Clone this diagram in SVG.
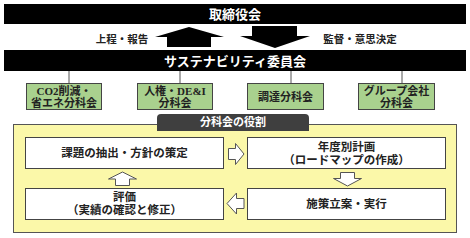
<svg xmlns="http://www.w3.org/2000/svg" width="470" height="238" viewBox="0 0 470 238">
<style>
text{font-family:"Liberation Serif","Noto Sans CJK JP",serif;font-weight:bold;text-anchor:middle}
.wt{fill:#fff}
.bk{fill:#222}
.bar{fill:#000}
.grn{fill:#a9d18e;stroke:#444;stroke-width:1}
.wbox{fill:#fff;stroke:#444;stroke-width:1}
.blk{fill:#fff;stroke:#555;stroke-width:1}
.conn{stroke:#555;stroke-width:1;fill:none}
</style>
<rect x="0" y="0" width="470" height="238" fill="#fff"/>
<g id="board">
<rect class="bar" x="4" y="4" width="462" height="20"/>
<text class="wt" x="235" y="19" font-size="13">取締役会</text>
</g>
<g id="committee">
<rect class="bar" x="4" y="50" width="462" height="21"/>
<text class="wt" x="235" y="65.5" font-size="13">サステナビリティ委員会</text>
</g>
<g id="connectors">
<polygon fill="#000" points="189,27 224,37 211,37 211,47 167,47 167,37 155,37"/>
<polygon fill="#000" points="252,26 297,26 297,36 310,36 275,48 240,36 252,36"/>
<text class="bk" x="122" y="43" font-size="10.5">上程・報告</text>
<text class="bk" x="360" y="43" font-size="10.5">監督・意思決定</text>
<line class="conn" x1="69" y1="71" x2="69" y2="83"/>
<line class="conn" x1="180" y1="71" x2="180" y2="83"/>
<line class="conn" x1="291" y1="71" x2="291" y2="83"/>
<line class="conn" x1="402" y1="71" x2="402" y2="83"/>
</g>
<g id="sub1">
<rect class="grn" x="26.5" y="83.5" width="75" height="26"/>
<text class="bk" x="64" y="94.5" font-size="11">CO2削減・</text>
<text class="bk" x="64" y="107" font-size="11">省エネ分科会</text>
</g>
<g id="sub2">
<rect class="grn" x="137.5" y="83.5" width="75" height="26"/>
<text class="bk" x="175" y="94.5" font-size="11">人権・DE&amp;I</text>
<text class="bk" x="175" y="107" font-size="11">分科会</text>
</g>
<g id="sub3">
<rect class="grn" x="247.5" y="83.5" width="76" height="26"/>
<text class="bk" x="285.5" y="101" font-size="11">調達分科会</text>
</g>
<g id="sub4">
<rect class="grn" x="358.5" y="83.5" width="76" height="26"/>
<text class="bk" x="396.5" y="94.5" font-size="11">グループ会社</text>
<text class="bk" x="396.5" y="107" font-size="11">分科会</text>
</g>
<g id="roles-panel">
<rect x="13.5" y="124.5" width="443" height="108" fill="#fbf8a9" stroke="#555" stroke-width="1"/>
<path d="M157,131 V118 Q157,114 161,114 H305 Q309,114 309,118 V131 Z" fill="#3f3f3f"/>
<text class="wt" x="233" y="126" font-size="11">分科会の役割</text>
</g>
<g id="step1">
<rect class="wbox" x="25.5" y="137.5" width="198" height="31"/>
<text class="bk" x="124.5" y="157" font-size="11.5">課題の抽出・方針の策定</text>
</g>
<g id="step2">
<rect class="wbox" x="247.5" y="137.5" width="198" height="31"/>
<text class="bk" x="346.5" y="151" font-size="11.5">年度別計画</text>
<text class="bk" x="346.5" y="164" font-size="11.5">（ロードマップの作成）</text>
</g>
<g id="step3">
<rect class="wbox" x="247.5" y="188.5" width="198" height="31"/>
<text class="bk" x="346.5" y="208" font-size="11.5">施策立案・実行</text>
</g>
<g id="step4">
<rect class="wbox" x="25.5" y="188.5" width="198" height="31"/>
<text class="bk" x="124.5" y="201" font-size="11.5">評価</text>
<text class="bk" x="124.5" y="214" font-size="11.5">（実績の確認と修正）</text>
</g>
<g id="flow-arrows">
<polygon class="blk" points="228.5,148.5 235.5,148.5 235.5,143.5 244,154 235.5,164.5 235.5,159.5 228.5,159.5"/>
<polygon class="blk" points="340.5,172.5 354.5,172.5 354.5,178.5 361.5,178.5 347.5,186 333.5,178.5 340.5,178.5"/>
<polygon class="blk" points="244,198.5 236.5,198.5 236.5,193 227,203.5 236.5,214 236.5,208.5 244,208.5"/>
<polygon class="blk" points="115.5,185.5 129.5,185.5 129.5,179 136.5,179 122.5,172 108.5,179 115.5,179"/>
</g>
</svg>
